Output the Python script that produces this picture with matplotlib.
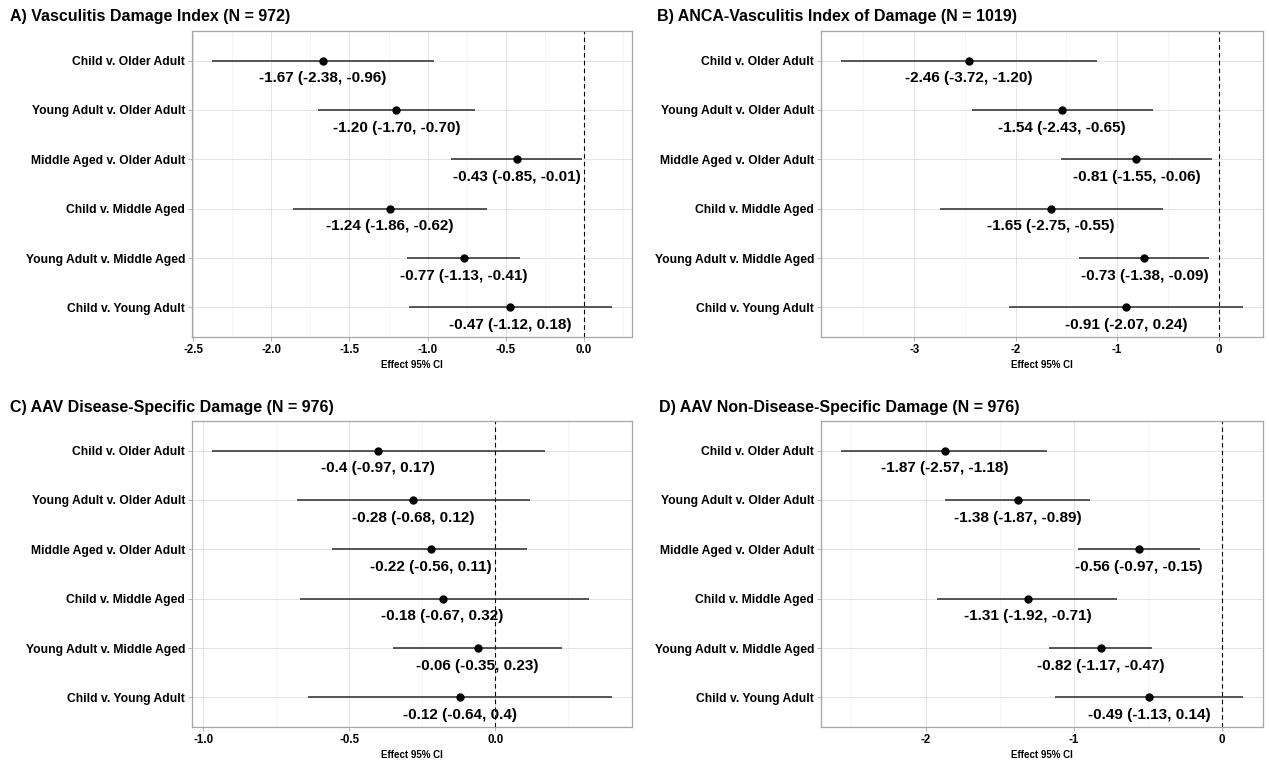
import matplotlib
matplotlib.use('Agg')
from matplotlib import pyplot as plt
from matplotlib.ticker import AutoMinorLocator, FixedLocator

plt.rcParams['font.family'] = ['Liberation Sans', 'DejaVu Sans']
plt.rcParams['font.weight'] = 'bold'
plt.rcParams['axes.unicode_minus'] = False

comparisons = ['Child v. Older Adult', 'Young Adult v. Older Adult',
               'Middle Aged v. Older Adult', 'Child v. Middle Aged',
               'Young Adult v. Middle Aged', 'Child v. Young Adult']

titles = ['A) Vasculitis Damage Index (N = 972)',
          'B) ANCA-Vasculitis Index of Damage (N = 1019)',
          'C) AAV Disease-Specific Damage (N = 976)',
          'D) AAV Non-Disease-Specific Damage (N = 976)']

# estimate, lower, upper per comparison (top to bottom)
vdi_est = [-1.67, -1.20, -0.43, -1.24, -0.77, -0.47]
vdi_lo = [-2.38, -1.70, -0.85, -1.86, -1.13, -1.12]
vdi_hi = [-0.96, -0.70, -0.01, -0.62, -0.41, 0.18]

avid_est = [-2.46, -1.54, -0.81, -1.65, -0.73, -0.91]
avid_lo = [-3.72, -2.43, -1.55, -2.75, -1.38, -2.07]
avid_hi = [-1.20, -0.65, -0.06, -0.55, -0.09, 0.24]

ds_est = [-0.40, -0.28, -0.22, -0.18, -0.06, -0.12]
ds_lo = [-0.97, -0.68, -0.56, -0.67, -0.35, -0.64]
ds_hi = [0.17, 0.12, 0.11, 0.32, 0.23, 0.40]

nds_est = [-1.87, -1.38, -0.56, -1.31, -0.82, -0.49]
nds_lo = [-2.57, -1.87, -0.97, -1.92, -1.17, -1.13]
nds_hi = [-1.18, -0.89, -0.15, -0.71, -0.47, 0.14]

x_ticks = [[-2.5, -2.0, -1.5, -1.0, -0.5, 0.0],
           [-3, -2, -1, 0],
           [-1.0, -0.5, 0.0],
           [-2, -1, 0]]
tick_fmt = ['%.1f', '%d', '%.1f', '%d']
label_fmt = ['%.2f', '%.2f', '%g', '%.2f']

W, H = 1269, 760
# panel boxes in pixels: left, top, right, bottom
boxes = [(192, 31, 632, 337), (821, 31, 1263, 337),
         (192, 421, 632, 727), (821, 421, 1263, 727)]
title_pos = [(10, 17), (657, 17), (10, 407), (659, 407)]

panels = [(vdi_est, vdi_lo, vdi_hi), (avid_est, avid_lo, avid_hi),
          (ds_est, ds_lo, ds_hi), (nds_est, nds_lo, nds_hi)]

fig = plt.figure(figsize=(W / 100, H / 100), dpi=100)

for i, (est, lo, hi) in enumerate(panels):
    l, t, r, b = boxes[i]
    ax = fig.add_axes([l / W, 1 - b / H, (r - l) / W, (b - t) / H])
    ypos = list(range(len(comparisons), 0, -1))

    ax.hlines(ypos, lo, hi, color='#2a2a2a', linewidth=1.1, zorder=3)
    ax.plot(est, ypos, 'o', color='black', markersize=5, zorder=4)
    ax.axvline(0, color='black', linestyle=(0, (4, 3)), linewidth=0.8, zorder=2)

    fmt = label_fmt[i]
    for e, lw_, up, y in zip(est, lo, hi, ypos):
        txt = (fmt % e) + ' (' + (fmt % lw_) + ', ' + (fmt % up) + ')'
        ax.text(e, y - 0.36, txt, ha='center', va='center',
                fontsize=11, fontweight='bold', zorder=5)

    xmin, xmax = min(lo), max(hi)
    pad = (xmax - xmin) * 0.05
    ax.set_xlim(xmin - pad, xmax + pad)
    ax.set_ylim(0.4, len(comparisons) + 0.6)

    ax.xaxis.set_major_locator(FixedLocator(x_ticks[i]))
    ax.set_xticklabels([tick_fmt[i] % v for v in x_ticks[i]])
    ax.xaxis.set_minor_locator(AutoMinorLocator(2))
    ax.set_yticks(ypos)
    ax.set_yticklabels(comparisons)

    ax.grid(True, which='major', color='#e3e3e3', linewidth=0.7, zorder=0)
    ax.grid(True, which='minor', axis='x', color='#f0f0f0', linewidth=0.5, zorder=0)
    ax.set_axisbelow(True)

    for s in ax.spines.values():
        s.set_color('#a6a6a6')
        s.set_linewidth(0.9)
    ax.tick_params(axis='both', which='major', length=3, width=0.6,
                   color='#a6a6a6', labelsize=8.7, pad=2)
    ax.tick_params(axis='x', which='minor', length=0)
    for lab in ax.get_xticklabels() + ax.get_yticklabels():
        lab.set_fontweight('bold')
        lab.set_color('black')
    ax.tick_params(axis='x', labelsize=8.3)

    ax.set_xlabel('Effect 95% CI', fontsize=7, fontweight='bold', labelpad=3)

    tx, ty = title_pos[i]
    fig.text(tx / W, 1 - ty / H, titles[i], ha='left', va='center',
             fontsize=11.5, fontweight='bold')

fig.savefig('out.png', dpi=100, facecolor='white')
